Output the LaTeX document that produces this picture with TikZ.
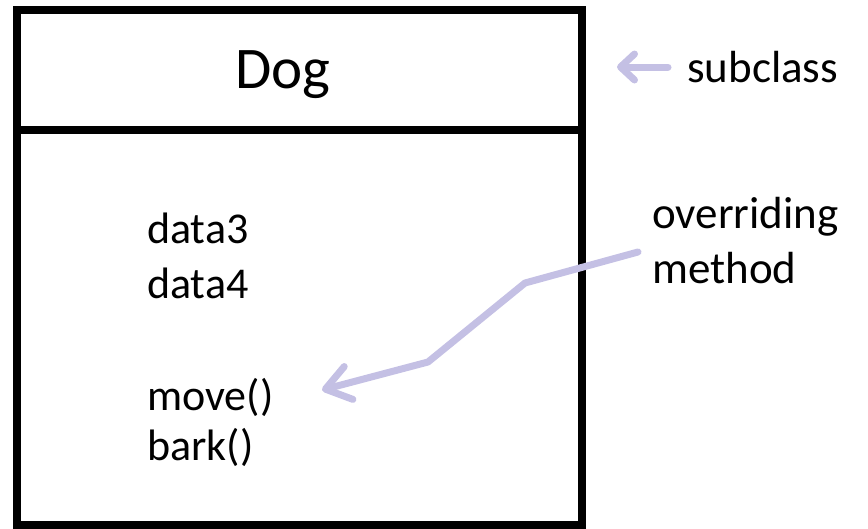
\documentclass[tikz,border=0pt]{standalone}
\usepackage{fontspec}
\setmainfont{Carlito}
\usetikzlibrary{arrows.meta, positioning, calc}
\definecolor{lavender}{RGB}{196,192,228}

\begin{document}
\begin{tikzpicture}[
    x=1pt, y=-1pt,
    frame/.style={draw=black, line width=8pt},
    title/.style={anchor=base, inner sep=0pt, font=\fontsize{59}{70}\selectfont},
    member/.style={anchor=base west, inner sep=0pt, font=\fontsize{44}{52}\selectfont},
    note/.style={anchor=base west, inner sep=0pt, font=\fontsize{45}{54}\selectfont},
    hint/.style={draw=lavender, line width=7pt, line cap=round, line join=round}
]
\useasboundingbox (0,0) rectangle (868,528);

% Class box
\coordinate (nw) at (17,9.5);
\coordinate (se) at (582,525);
\draw[frame] (nw) rectangle (se);
\draw[frame] (nw |- 0,130) -- (se |- 0,130);

% Nodes
\node[title] (dog) at (283,88) {Dog};
\node[member] (data3) at (147,243) {data3};
\node[member] (data4) at (147,298) {data4};
\node[member] (move) at (147,410) {move()};
\node[member] (bark) at (147,460) {bark()};

\node[note] (sub) at (687,82) {subclass};
\node[note] (over) at (652,228) {overriding};
\node[note] (meth) at (652,283) {method};

% Arrows
\coordinate (subtip) at (617,67);
\coordinate (subtail) at ([xshift=-19pt]sub.west |- subtip);
\draw[hint, -{Straight Barb[length=14pt, width=26pt, round]}] (subtail) -- (subtip);

\coordinate (ovtail) at (638,252);
\coordinate (bendA) at (525,283);
\coordinate (bendB) at (428,362);
\coordinate (ovtip) at (322,390);
\draw[hint, -{Straight Barb[length=24pt, width=34pt, round]}] (ovtail) -- (bendA) -- (bendB) -- (ovtip);

\end{tikzpicture}
\end{document}
